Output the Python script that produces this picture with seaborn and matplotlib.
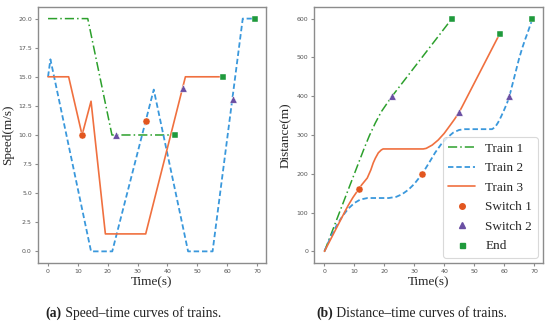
import matplotlib
matplotlib.use("Agg")
import matplotlib.pyplot as plt
import seaborn as sns
import pandas as pd
from matplotlib.lines import Line2D
from matplotlib.offsetbox import TextArea, HPacker, AnchoredOffsetbox

# ---------------- data ----------------
# Speed-time curves
t1_speed_t = [0, 13.3, 21.4, 42.6]
t1_speed_v = [20, 20, 10, 10]
t2_speed_t = [0, 0.8, 14.4, 21.5, 35.4, 46.9, 55.1, 65.2, 69.4]
t2_speed_v = [15, 16.5, 0, 0, 13.9, 0, 0, 20, 20]
t3_speed_t = [0, 6.9, 11.4, 14.4, 19.2, 32.7, 46.0, 58.5]
t3_speed_v = [15, 15, 10, 12.9, 1.5, 1.5, 15, 15]

sw1_speed_t = [11.4, 32.7]
sw1_speed_v = [10, 11.2]
sw2_speed_t = [22.6, 45.1, 61.8]
sw2_speed_v = [10, 14, 13.1]
end_speed_t = [42.6, 58.5, 69.4]
end_speed_v = [10, 15, 20]

# Distance-time curves
t1_dist_t = [0, 13.3, 15, 17, 19, 21.4, 22.6, 42.6]
t1_dist_d = [0, 266, 298, 331, 360, 387, 400, 600]
t2_dist_t = [0, 2, 4, 6, 8, 10, 12, 14.4, 21.5, 24, 26, 28, 30, 32.7, 35.4, 37, 39,
             41, 43, 45, 46.9, 56, 57, 58, 59, 60, 61, 61.8, 63, 64, 65, 66, 67, 68, 69.5]
t2_dist_d = [0, 35.5, 65.8, 90.7, 110.4, 124.7, 133.7, 137.5, 137.5, 140.6, 147.6, 158.6,
             173.6, 200, 234, 254.7, 276.2, 292.8, 306, 313, 315, 315, 320, 332, 347, 364,
             382, 400, 436, 466, 496, 522, 545, 566, 600]
t3_dist_t = [0, 6.9, 8, 9.5, 11.4, 12.5, 14.3, 15.5, 16.3, 17, 18, 19, 19.6, 33, 34, 36,
             38, 40, 42, 43.5, 45.1, 46, 58.5]
t3_dist_d = [0, 103.5, 119.3, 138.7, 160, 172, 189, 210, 228, 240, 254, 261.5, 264, 264,
             265.5, 274, 287, 304, 325, 341, 360, 373, 560]

sw1_dist_t = [11.4, 32.7]
sw1_dist_d = [160, 200]
sw2_dist_t = [22.6, 45.1, 61.8]
sw2_dist_d = [400, 360, 400]
end_dist_t = [42.6, 58.5, 69.5]
end_dist_d = [600, 560, 600]

train_labels = ["Train 1", "Train 2", "Train 3"]
marker_labels = ["Switch 1", "Switch 2", "End"]
captions = [("(a)", " Speed\u2013time curves of trains."),
            ("(b)", " Distance\u2013time curves of trains.")]

# ---------------- style ----------------
sns.set_style("ticks")
plt.rcParams.update({
    "axes.edgecolor": "#8c8c8c",
    "axes.linewidth": 1.0,
    "xtick.color": "#8c8c8c",
    "ytick.color": "#8c8c8c",
    "xtick.labelcolor": "#555555",
    "ytick.labelcolor": "#555555",
    "xtick.major.size": 2.2,
    "ytick.major.size": 2.2,
    "xtick.major.width": 0.8,
    "ytick.major.width": 0.8,
    "xtick.labelsize": 4.5,
    "ytick.labelsize": 4.5,
    "xtick.major.pad": 2.0,
    "ytick.major.pad": 2.0,
})
plt.rcParams["font.family"] = ["DejaVu Sans"]

c_green = "#2ca02c"
c_blue = "#3a98dc"
c_orange = "#f0703f"
c_sw1 = "#e2561f"
c_sw2 = "#6a4fa3"
c_end = "#1f9a3c"
serif = ["Liberation Serif", "DejaVu Serif"]

fig = plt.figure(figsize=(5.5, 3.27), dpi=100)
ax1 = fig.add_axes([0.0685, 0.1957, 0.4145, 0.783])
ax2 = fig.add_axes([0.571, 0.1957, 0.416, 0.783])

green_ls = (0, (6, 2, 1, 2))
blue_ls = (0, (3, 1.6))


def draw(ax, lines, sw1, sw2, end):
    styles = [(c_green, green_ls, 1.1),
              (c_blue, blue_ls, 1.3),
              (c_orange, "-", 1.2)]
    for (t, y), (c, ls, lw) in zip(lines, styles):
        df = pd.DataFrame({"t": t, "y": y})
        sns.lineplot(data=df, x="t", y="y", ax=ax, color=c, linestyle=ls,
                     linewidth=lw, estimator=None, sort=False, zorder=2)
    for (t, y), c, m, s in [(sw1, c_sw1, "o", 26), (sw2, c_sw2, "^", 28), (end, c_end, "s", 24)]:
        df = pd.DataFrame({"t": t, "y": y})
        sns.scatterplot(data=df, x="t", y="y", ax=ax, color=c, marker=m, s=s,
                        edgecolor="white", linewidth=0.3, zorder=3)
    ax.set_xticks(range(0, 71, 10))


draw(ax1,
     [(t1_speed_t, t1_speed_v), (t2_speed_t, t2_speed_v), (t3_speed_t, t3_speed_v)],
     (sw1_speed_t, sw1_speed_v), (sw2_speed_t, sw2_speed_v), (end_speed_t, end_speed_v))
draw(ax2,
     [(t1_dist_t, t1_dist_d), (t2_dist_t, t2_dist_d), (t3_dist_t, t3_dist_d)],
     (sw1_dist_t, sw1_dist_d), (sw2_dist_t, sw2_dist_d), (end_dist_t, end_dist_d))

ax1.set_yticks([0, 2.5, 5, 7.5, 10, 12.5, 15, 17.5, 20])
ax1.set_yticklabels(["0.0", "2.5", "5.0", "7.5", "10.0", "12.5", "15.0", "17.5", "20.0"])

ax1.set_xlabel("Time(s)", fontsize=9.5, family=serif, labelpad=2)
ax1.set_ylabel("Speed(m/s)", fontsize=9.5, family=serif, labelpad=3)
ax2.set_xlabel("Time(s)", fontsize=9.5, family=serif, labelpad=2)
ax2.set_ylabel("Distance(m)", fontsize=9.5, family=serif, labelpad=3)

handles = [
    Line2D([], [], color=c_green, linestyle=green_ls, linewidth=1.1),
    Line2D([], [], color=c_blue, linestyle=blue_ls, linewidth=1.3),
    Line2D([], [], color=c_orange, linestyle="-", linewidth=1.2),
    Line2D([], [], color=c_sw1, marker="o", linestyle="none", markersize=4),
    Line2D([], [], color=c_sw2, marker="^", linestyle="none", markersize=4),
    Line2D([], [], color=c_end, marker="s", linestyle="none", markersize=3.6),
]
leg = ax2.legend(handles, train_labels + marker_labels, loc="lower right",
                 prop={"family": serif, "size": 9.5}, frameon=True,
                 borderaxespad=0.4, labelspacing=0.55, handletextpad=0.8)
leg.get_frame().set_edgecolor("#d0d0d0")
leg.get_frame().set_linewidth(0.8)

# captions with bold prefix
for (bold, rest), x in zip(captions, [0.242, 0.748]):
    ta = TextArea(bold, textprops=dict(fontsize=9.8, family=serif, weight="bold", color="#222222"))
    tb = TextArea(rest, textprops=dict(fontsize=9.8, family=serif, color="#222222"))
    box = HPacker(children=[ta, tb], align="baseline", pad=0, sep=0)
    ab = AnchoredOffsetbox(loc="center", child=box, bbox_to_anchor=(x, 0.043),
                           bbox_transform=fig.transFigure, frameon=False, pad=0, borderpad=0)
    fig.add_artist(ab)

fig.savefig("out.png", dpi=100)
